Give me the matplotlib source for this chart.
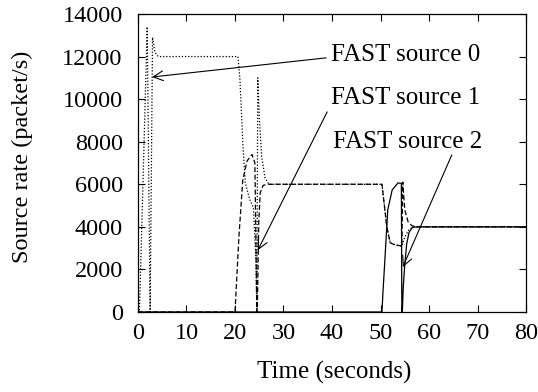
import matplotlib
matplotlib.use('Agg')
import matplotlib.pyplot as plt

# source rates (time in s, rate in packet/s)
t0 = [0, 0.3, 1.9, 2.5, 3.0, 3.5, 4.2, 20.6, 21.0, 21.6, 22.1, 23.0, 23.8, 24.3, 24.5, 24.7, 25.0, 25.5, 26.2, 27.0,
      50.3, 50.8, 51.3, 52.0, 53.0, 54.4, 55.0, 55.8, 56.6, 57.5, 80]
r0 = [0, 0, 13400, 0, 12900, 12200, 12000, 12000, 11000, 8000, 6100, 5300, 4900, 2500, 0, 11000, 9200, 7300, 6300, 6000,
      6000, 5000, 4000, 3250, 3150, 3100, 3500, 3850, 3980, 4000, 4000]

t1 = [0, 20.0, 20.8, 21.6, 22.5, 23.5, 24.1, 24.5, 24.6, 24.9, 25.2, 25.8, 26.8, 27.5,
      50.3, 50.8, 51.3, 52.0, 53.0, 54.4, 54.6, 55.0, 55.7, 56.5, 57.5, 80]
r1 = [0, 0, 3500, 6200, 7100, 7400, 7000, 0, 0, 4200, 5600, 5950, 6000, 6000,
      6000, 5000, 4000, 3250, 3150, 3100, 6100, 4800, 4230, 4050, 4000, 4000]

t2 = [0, 50.3, 50.5, 50.9, 51.5, 52.4, 53.6, 54.3, 54.4, 54.5, 54.7, 55.0, 55.4, 55.9, 56.6, 57.5, 80]
r2 = [0, 0, 900, 2440, 4800, 5730, 6060, 6050, 0, 0, 1200, 2200, 3200, 3750, 3980, 4000, 4000]

labels = ['FAST source 0', 'FAST source 1', 'FAST source 2']
xticks = [0, 10, 20, 30, 40, 50, 60, 70, 80]
yticks = [0, 2000, 4000, 6000, 8000, 10000, 12000, 14000]

plt.rcParams['font.family'] = ['Liberation Serif', 'DejaVu Serif']
plt.rcParams['font.size'] = 17.5

fig = plt.figure(figsize=(5.38, 3.92), dpi=100)
ax = fig.add_axes([0.2565, 0.2041, 0.7212, 0.7602])

ax.plot(t0, r0, color='black', lw=0.9, linestyle=(0, (1, 1.5)))
ax.plot(t1, r1, color='black', lw=0.9, linestyle=(0, (4, 2)))
ax.plot(t2, r2, color='black', lw=0.9, linestyle='-')

ax.set_xlim(0, 80)
ax.set_ylim(0, 14000)
ax.set_xticks(xticks)
ax.set_yticks(yticks)
ax.tick_params(direction='in', length=5, width=0.8, top=True, right=True)
ax.tick_params(axis='x', pad=8)
ax.tick_params(axis='y', pad=11)
for s in ax.spines.values():
    s.set_linewidth(0.9)

ax.set_xlabel('Time (seconds)', fontsize=18)
ax.set_ylabel('Source rate (packet/s)', fontsize=17.5)
ax.xaxis.set_label_coords(0.505, -0.164)
ax.yaxis.set_label_coords(-0.271, 0.52)

arrow = dict(arrowstyle='->', color='black', lw=0.8, shrinkA=0, shrinkB=0)
ax.annotate('', xy=(2.9, 11040), xytext=(38.8, 11940), arrowprops=arrow)
ax.annotate('', xy=(24.7, 2900), xytext=(39.0, 9400), arrowprops=arrow)
ax.annotate('', xy=(54.6, 2110), xytext=(64.7, 7380), arrowprops=arrow)

ax.text(39.8, 12070, labels[0], va='center', ha='left', fontsize=18)
ax.text(39.8, 10060, labels[1], va='center', ha='left', fontsize=18)
ax.text(40.2, 7990, labels[2], va='center', ha='left', fontsize=18)

fig.savefig('out.png', dpi=100)
